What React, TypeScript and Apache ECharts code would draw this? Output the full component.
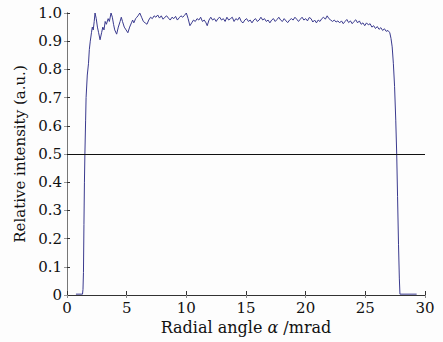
import React, { useEffect, useRef } from "react";
import * as echarts from "echarts";

// Radial angle (mrad) vs relative intensity (a.u.)
const profile: [number, number][] = [
  [0.75, 0.003], [1.3, 0.003], [1.34, 0.02], [1.38, 0.08], [1.42, 0.25], [1.46, 0.4], [1.5, 0.5],
  [1.56, 0.62], [1.6, 0.7], [1.7, 0.78], [1.8, 0.82], [1.87, 0.87], [1.95, 0.9], [2.05, 0.93],
  [2.12, 0.95], [2.2, 0.94], [2.28, 0.97], [2.35, 1.0], [2.45, 0.98], [2.55, 0.95], [2.65, 0.93],
  [2.77, 0.905], [2.9, 0.93], [3.0, 0.95], [3.1, 0.94], [3.2, 0.97], [3.3, 0.96], [3.45, 0.98],
  [3.55, 0.97], [3.69, 1.0], [3.8, 0.985], [3.9, 0.96], [4.0, 0.94], [4.16, 0.925], [4.3, 0.95],
  [4.45, 0.97], [4.55, 0.985], [4.65, 0.97], [4.8, 0.95], [4.95, 0.94], [5.1, 0.93], [5.25, 0.95],
  [5.4, 0.965], [5.5, 0.975], [5.6, 0.965], [5.75, 0.98], [5.85, 0.985], [5.95, 0.99], [6.1, 1.0],
  [6.25, 0.985], [6.4, 0.97], [6.55, 0.965], [6.7, 0.96], [6.85, 0.975], [7.0, 0.985], [7.15, 0.98],
  [7.3, 0.99], [7.45, 0.985], [7.6, 0.993], [7.75, 0.982], [7.9, 0.99], [8.05, 0.978], [8.2, 0.985],
  [8.35, 0.99], [8.5, 0.982], [8.65, 0.975], [8.8, 0.985], [8.95, 0.98], [9.1, 0.988], [9.25, 0.975],
  [9.4, 0.983], [9.55, 0.99], [9.7, 0.985], [9.85, 0.992], [10.0, 1.0], [10.15, 0.98], [10.3, 0.955],
  [10.45, 0.965], [10.6, 0.975], [10.75, 0.97], [10.9, 0.98], [11.05, 0.975], [11.2, 0.985],
  [11.35, 0.97], [11.5, 0.975], [11.65, 0.965], [11.75, 0.955], [11.9, 0.975], [12.05, 0.985],
  [12.2, 0.975], [12.35, 0.98], [12.5, 0.97], [12.65, 0.98], [12.8, 0.985], [12.95, 0.975],
  [13.1, 0.98], [13.25, 0.97], [13.4, 0.985], [13.55, 0.975], [13.7, 0.98], [13.85, 0.985],
  [14.0, 0.97], [14.15, 0.98], [14.3, 0.975], [14.45, 0.985], [14.6, 0.97], [14.75, 0.965],
  [14.9, 0.975], [15.05, 0.98], [15.2, 0.97], [15.35, 0.975], [15.5, 0.965], [15.65, 0.975],
  [15.8, 0.98], [15.95, 0.97], [16.1, 0.975], [16.25, 0.985], [16.4, 0.975], [16.55, 0.98],
  [16.7, 0.97], [16.85, 0.975], [17.0, 0.965], [17.15, 0.975], [17.3, 0.98], [17.45, 0.97],
  [17.6, 0.977], [17.75, 0.985], [17.9, 0.975], [18.05, 0.97], [18.2, 0.98], [18.35, 0.972],
  [18.5, 0.966], [18.65, 0.975], [18.8, 0.98], [18.95, 0.975], [19.1, 0.985], [19.25, 0.978],
  [19.4, 0.97], [19.55, 0.978], [19.7, 0.985], [19.85, 0.975], [20.0, 0.98], [20.15, 0.972],
  [20.3, 0.984], [20.45, 0.98], [20.6, 0.968], [20.75, 0.975], [20.9, 0.965], [21.05, 0.975],
  [21.2, 0.97], [21.35, 0.98], [21.5, 0.985], [21.65, 0.978], [21.8, 0.99], [21.95, 0.98],
  [22.1, 0.975], [22.25, 0.97], [22.4, 0.975], [22.55, 0.968], [22.7, 0.972], [22.85, 0.965],
  [23.0, 0.972], [23.15, 0.962], [23.3, 0.97], [23.45, 0.977], [23.6, 0.966], [23.75, 0.972],
  [23.9, 0.962], [24.05, 0.97], [24.2, 0.976], [24.35, 0.965], [24.5, 0.972], [24.65, 0.96],
  [24.8, 0.965], [24.95, 0.955], [25.1, 0.965], [25.25, 0.958], [25.4, 0.962], [25.55, 0.95],
  [25.7, 0.955], [25.85, 0.945], [26.0, 0.952], [26.15, 0.942], [26.3, 0.948], [26.45, 0.938],
  [26.6, 0.944], [26.75, 0.935], [26.9, 0.938], [27.05, 0.93], [27.15, 0.91], [27.25, 0.88],
  [27.35, 0.82], [27.45, 0.74], [27.55, 0.62], [27.63, 0.5], [27.7, 0.35], [27.78, 0.18],
  [27.85, 0.06], [27.9, 0.003], [29.3, 0.003],
];

const halfLevel = 0.5;
const xTitle = "{n|Radial angle }{i|α}{n| /mrad}";
const yTitle = "Relative intensity (a.u.)";

const FONT = "DejaVu Serif";

export default function App() {
  const ref = useRef<HTMLDivElement>(null);
  useEffect(() => {
    if (!ref.current) return;
    const chart = echarts.init(ref.current, undefined, { renderer: "svg" });
    const labelStyle = { fontFamily: FONT, fontSize: 15, color: "#111" };
    chart.setOption({
      animation: false,
      backgroundColor: "#fdfdfd",
      grid: { left: 67, right: 18, top: 13, bottom: 47, show: false },
      xAxis: [
        {
          type: "value",
          min: 0,
          max: 30,
          interval: 5,
          position: "bottom",
          axisLine: { show: true, lineStyle: { color: "#333", width: 1 } },
          axisTick: { show: true, inside: true, length: 4, lineStyle: { color: "#333" } },
          axisLabel: { ...labelStyle, margin: 5 },
          splitLine: { show: false },
          name: xTitle,
          nameLocation: "middle",
          nameGap: 24,
          nameTextStyle: {
            rich: {
              n: { fontFamily: FONT, fontSize: 16, color: "#111" },
              i: { fontFamily: FONT, fontSize: 16, fontStyle: "italic", color: "#111" },
            },
          },
        },
        {
          type: "value",
          min: 0,
          max: 30,
          interval: 5,
          position: "top",
          axisLine: { show: true, lineStyle: { color: "#333", width: 1 } },
          axisTick: { show: true, inside: true, length: 3, lineStyle: { color: "#888" } },
          axisLabel: { show: false },
          splitLine: { show: false },
        },
      ],
      yAxis: [
        {
          type: "value",
          min: 0,
          max: 1,
          interval: 0.1,
          position: "left",
          axisLine: { show: true, lineStyle: { color: "#333", width: 1 } },
          axisTick: { show: true, inside: true, length: 3, lineStyle: { color: "#333" } },
          axisLabel: {
            ...labelStyle,
            margin: 5,
            formatter: (v: number) => (v === 0 ? "0" : v.toFixed(1)),
          },
          splitLine: { show: false },
          name: yTitle,
          nameLocation: "middle",
          nameGap: 38,
          nameRotate: 90,
          nameTextStyle: { fontFamily: FONT, fontSize: 15, color: "#111" },
        },
        {
          type: "value",
          min: 0,
          max: 1,
          interval: 0.1,
          position: "right",
          axisLine: { show: true, lineStyle: { color: "#777", width: 1 } },
          axisTick: { show: true, inside: true, length: 3, lineStyle: { color: "#999" } },
          axisLabel: { show: false },
          splitLine: { show: false },
        },
      ],
      series: [
        {
          type: "line",
          data: profile,
          xAxisIndex: 0,
          yAxisIndex: 0,
          showSymbol: false,
          symbol: "none",
          lineStyle: { color: "#3a3a8e", width: 1 },
          markLine: {
            silent: true,
            symbol: "none",
            label: { show: false },
            lineStyle: { color: "#111", width: 1, type: "solid" },
            data: [{ yAxis: halfLevel }],
          },
        },
      ],
    });
    return () => chart.dispose();
  }, []);
  return (
    <div
      ref={ref}
      style={{ position: "fixed", left: 0, top: 0, width: 443, height: 342 }}
    />
  );
}
